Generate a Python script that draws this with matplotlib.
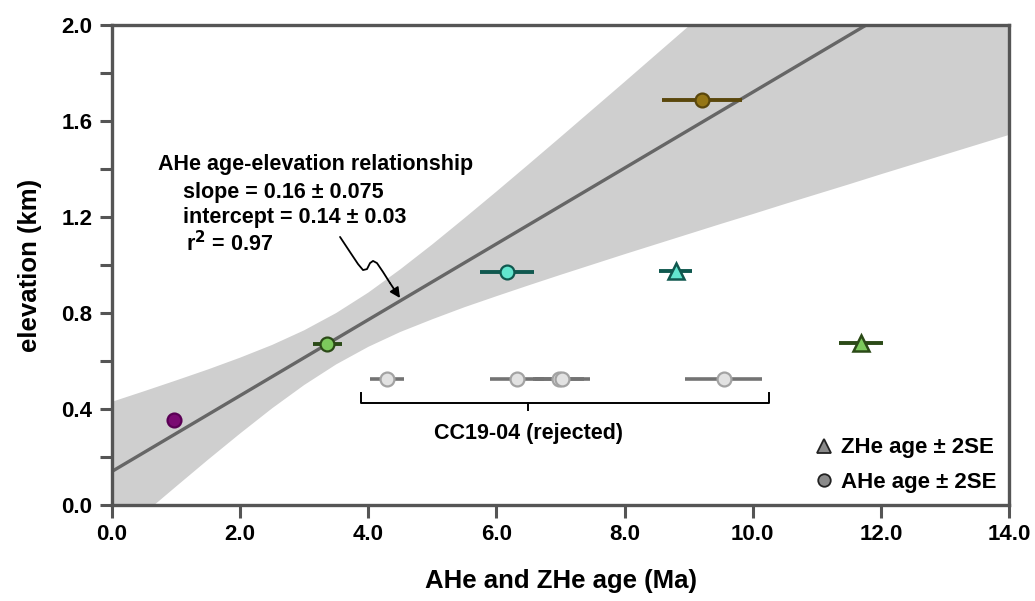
import numpy as np
import matplotlib.pyplot as plt
from matplotlib.lines import Line2D

# fuente sans en negrita (Arial-like)
plt.rcParams['font.family'] = ['Liberation Sans', 'DejaVu Sans']
plt.rcParams['font.weight'] = 'bold'
plt.rcParams['axes.labelweight'] = 'bold'

# --- datos ---
slope = 0.158
intercept = 0.14

band_x = [0, 0.5, 1, 1.5, 2, 2.5, 3, 3.5, 4, 4.5, 5, 5.5, 6, 6.5, 7, 7.5, 8, 8.5, 9, 9.5,
          10, 10.5, 11, 11.5, 12, 12.5, 13, 13.5, 14]
band_upper = [0.43, 0.474, 0.519, 0.565, 0.614, 0.667, 0.728, 0.80, 0.885, 0.982, 1.086, 1.195,
              1.306, 1.419, 1.533, 1.648, 1.763, 1.879, 1.995, 2.111, 2.228, 2.344, 2.461,
              2.578, 2.694, 2.811, 2.928, 3.045, 3.162]
band_lower = [-0.15, -0.036, 0.077, 0.189, 0.298, 0.403, 0.50, 0.586, 0.659, 0.721, 0.774, 0.824,
              0.870, 0.915, 0.959, 1.002, 1.045, 1.087, 1.129, 1.171, 1.212, 1.254, 1.295,
              1.336, 1.378, 1.419, 1.46, 1.501, 1.542]

# AHe (circulos) aceptados
ahe_age = [0.97, 3.36, 6.17, 9.21]
ahe_err = [0.0, 0.23, 0.42, 0.63]
ahe_elev = [0.354, 0.671, 0.971, 1.688]
ahe_face = ['#7a0a72', '#7cc95c', '#62e6cf', '#957616']
ahe_edge = ['#5a0055', '#2b4a17', '#10584f', '#5a470c']

# ZHe (triangulos)
zhe_age = [8.80, 11.69]
zhe_err = [0.26, 0.35]
zhe_elev = [0.975, 0.675]
zhe_face = ['#62e6cf', '#7cc95c']
zhe_edge = ['#10584f', '#2b4a17']

# CC19-04 rechazada
rej_age = [4.29, 6.32, 6.97, 7.03, 9.55]
rej_err = [0.27, 0.42, 0.40, 0.43, 0.60]
rej_elev = [0.525, 0.525, 0.525, 0.525, 0.525]

# flecha ondulada de la anotacion
sq_x = [3.559, 3.715, 3.840, 3.918, 3.980, 4.027, 4.074, 4.136, 4.230, 4.339]
sq_y = [1.117, 1.054, 1.004, 0.979, 0.983, 1.008, 1.017, 1.008, 0.971, 0.925]
arrow_tip = (4.495, 0.8625)

x_ticks = [0, 2, 4, 6, 8, 10, 12, 14]
y_ticks = [0.0, 0.4, 0.8, 1.2, 1.6, 2.0]

fig = plt.figure(figsize=(10.35, 6.01), dpi=100)
ax = fig.add_axes([0.1082, 0.1597, 0.8667, 0.7987])

# banda de confianza y recta de regresion
ax.fill_between(band_x, band_lower, band_upper, color='#cfcfcf', lw=0, zorder=1)
xx = np.array([0, 14])
ax.plot(xx, intercept + slope * xx, color='#666666', lw=2.4, zorder=2)

# rechazadas
for a, e, h in zip(rej_age, rej_err, rej_elev):
    ax.plot([a - e, a + e], [h, h], color='#737373', lw=2.6, zorder=3, solid_capstyle='butt')
    ax.plot(a, h, 'o', ms=10, mfc='#e2e2e2', mec='#a3a3a3', mew=1.6, zorder=4)

for a, e, h, fc, ec in zip(ahe_age, ahe_err, ahe_elev, ahe_face, ahe_edge):
    if e > 0:
        ax.plot([a - e, a + e], [h, h], color=ec, lw=2.8, zorder=3, solid_capstyle='butt')
    ax.plot(a, h, 'o', ms=10, mfc=fc, mec=ec, mew=1.6, zorder=4)

for a, e, h, fc, ec in zip(zhe_age, zhe_err, zhe_elev, zhe_face, zhe_edge):
    ax.plot([a - e, a + e], [h, h], color=ec, lw=2.8, zorder=3, solid_capstyle='butt')
    ax.plot(a, h, '^', ms=11, mfc=fc, mec=ec, mew=1.8, zorder=4)

# corchete CC19-04
bx0, bx1, by = 3.88, 10.26, 0.425
ax.plot([bx0, bx0, bx1, bx1], [by + 0.04, by, by, by + 0.04], color='black', lw=1.4, zorder=3)
ax.plot([6.5, 6.5], [by, by - 0.03], color='black', lw=1.4, zorder=3)
ax.text(6.5, 0.30, 'CC19-04 (rejected)', ha='center', va='center', fontsize=15.5)

# anotacion de la regresion
ax.text(0.72, 1.417, 'AHe age-elevation relationship', fontsize=15.5, va='center')
ax.text(1.11, 1.304, 'slope = 0.16 \u00b1 0.075', fontsize=15.5, va='center')
ax.text(1.11, 1.196, 'intercept = 0.14 \u00b1 0.03', fontsize=15.5, va='center')
ax.text(1.15, 1.0875, 'r$^\\mathbf{2}$ = 0.97', fontsize=15.5, va='center')

ax.plot(sq_x, sq_y, color='black', lw=1.3, zorder=5, solid_capstyle='round', solid_joinstyle='round')
ax.annotate('', xy=arrow_tip, xytext=(sq_x[-1], sq_y[-1]),
            arrowprops=dict(arrowstyle='-|>', color='black', lw=1.3, mutation_scale=15,
                            shrinkA=0, shrinkB=0), zorder=5)

# leyenda
handles = [Line2D([], [], marker='^', ls='', ms=10, mfc='#8a8a8a', mec='#222222', mew=1.3),
           Line2D([], [], marker='o', ls='', ms=9, mfc='#8a8a8a', mec='#222222', mew=1.3)]
ax.legend(handles, ['ZHe age \u00b1 2SE', 'AHe age \u00b1 2SE'], loc='lower right', frameon=False,
          fontsize=16, handletextpad=0.2, labelspacing=0.6, borderaxespad=0.15, handlelength=1.2,
          bbox_to_anchor=(1.0, 0.0))

ax.set_xlim(0, 14)
ax.set_ylim(0, 2.0)
ax.set_xticks(x_ticks)
ax.set_xticklabels(['%.1f' % v for v in x_ticks])
ax.set_yticks(y_ticks)
ax.set_yticklabels(['%.1f' % v for v in y_ticks])
ax.set_yticks(np.arange(0.2, 2.0, 0.4), minor=True)
ax.tick_params(axis='both', which='both', direction='out', length=9, width=2.2, color='#555555',
               labelsize=16, pad=5)
for s in ax.spines.values():
    s.set_color('#555555')
    s.set_linewidth(2.4)

ax.set_xlabel('AHe and ZHe age (Ma)', fontsize=18.5, labelpad=17)
ax.set_ylabel('elevation (km)', fontsize=18.5, labelpad=14)

fig.savefig('out.png', dpi=100)
